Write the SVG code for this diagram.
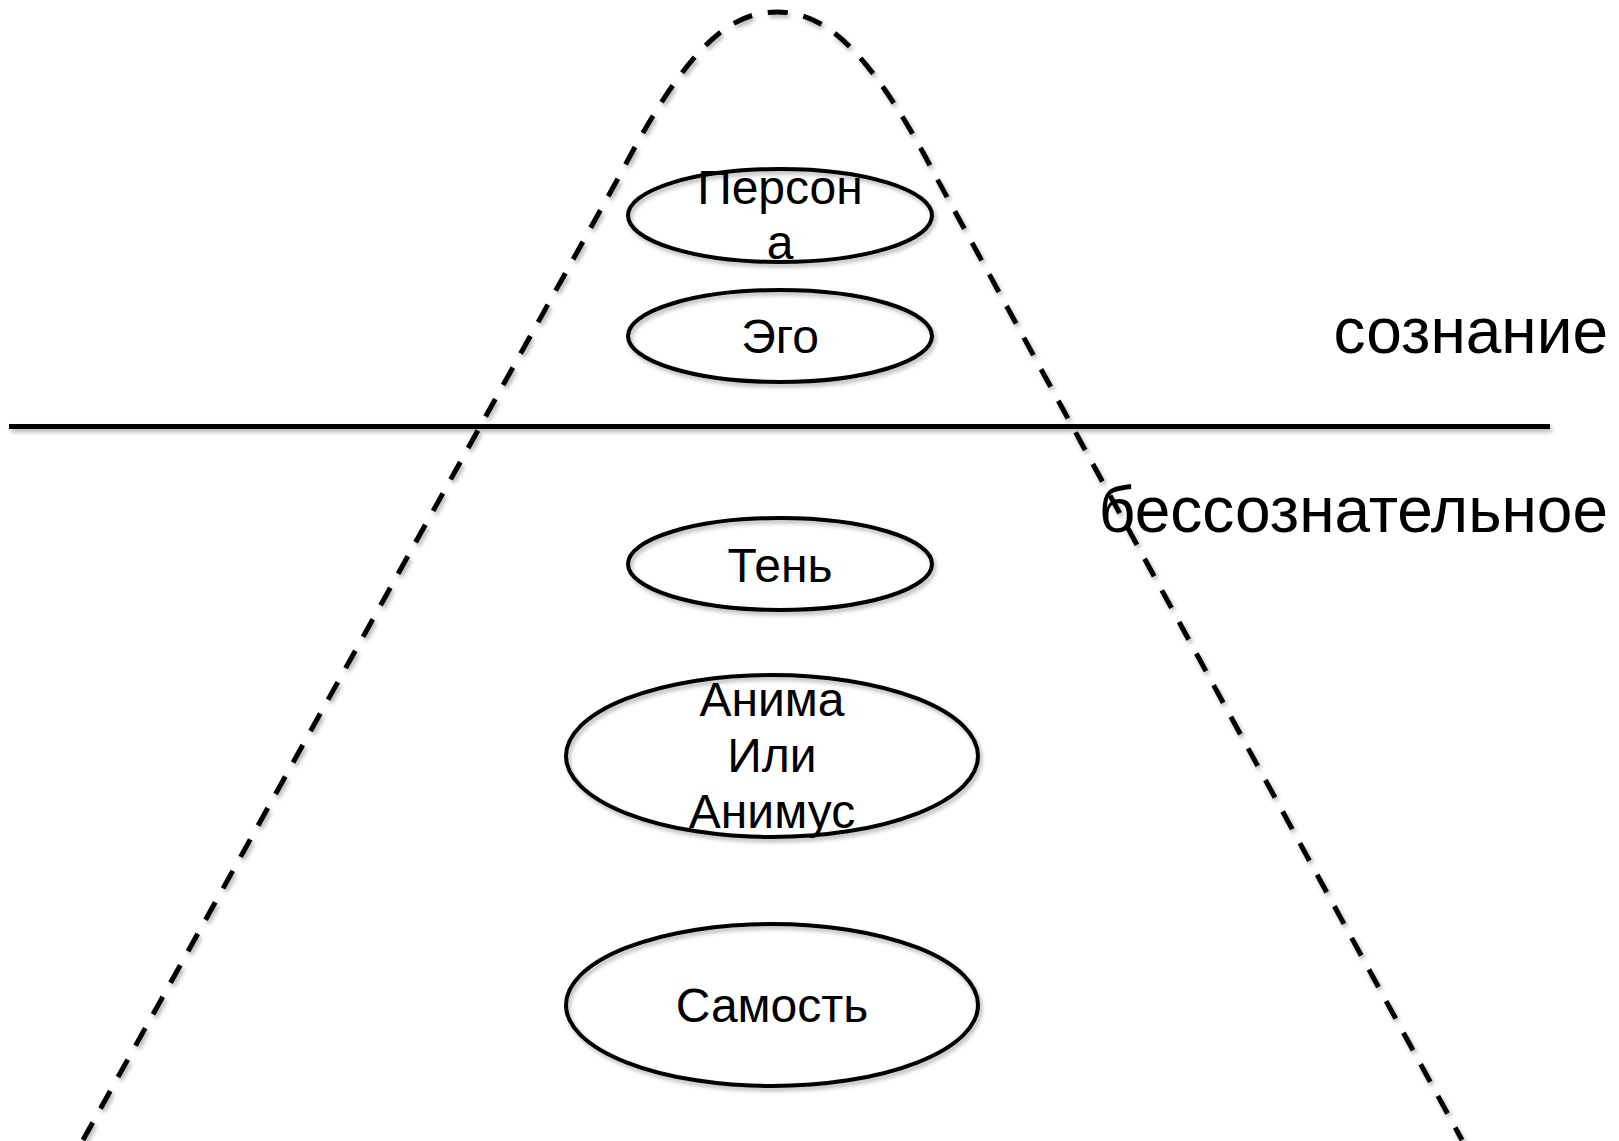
<svg xmlns="http://www.w3.org/2000/svg" width="1619" height="1141" viewBox="0 0 1619 1141">
<style>
  .node ellipse { fill: none; stroke: #000; stroke-width: 4; }
  .lbl { font-family: "Liberation Sans", Arial, sans-serif; font-size: 48px; fill: #000; text-anchor: middle; }
  .big { font-family: "Liberation Sans", Arial, sans-serif; font-size: 64px; fill: #000; text-anchor: end; }
  .dash { fill: none; stroke: #000; stroke-width: 5; stroke-dasharray: 20 16; }
  .sep { stroke: #000; stroke-width: 5; }
</style>
<defs>
  <filter id="sh" x="-5%" y="-5%" width="110%" height="120%">
    <feDropShadow dx="2" dy="3" stdDeviation="2" flood-color="#000" flood-opacity="0.3"/>
  </filter>
</defs>
<rect width="1619" height="1141" fill="#fff"/>
<g id="connectors" filter="url(#sh)">
  <path class="dash" d="M 83 1140 L 620 175 C 690 40, 733 12, 777 12 C 820 12, 865 40, 935 175 L 1462 1140"/>
  <line class="sep" x1="9" y1="426.5" x2="1550" y2="426.5"/>
</g>
<g id="persona" class="node">
  <ellipse cx="780" cy="215.5" rx="152" ry="46.5" filter="url(#sh)"/>
  <text class="lbl" x="780" y="204">Персон</text>
  <text class="lbl" x="780" y="259">а</text>
</g>
<g id="ego" class="node">
  <ellipse cx="780" cy="336" rx="152" ry="46" filter="url(#sh)"/>
  <text class="lbl" x="780" y="353">Эго</text>
</g>
<g id="shadow" class="node">
  <ellipse cx="780" cy="564" rx="152" ry="46" filter="url(#sh)"/>
  <text class="lbl" x="780" y="582">Тень</text>
</g>
<g id="anima" class="node">
  <ellipse cx="772" cy="756" rx="206" ry="81" filter="url(#sh)"/>
  <text class="lbl" x="772" y="716">Анима</text>
  <text class="lbl" x="772" y="772">Или</text>
  <text class="lbl" x="772" y="828">Анимус</text>
</g>
<g id="self" class="node">
  <ellipse cx="772" cy="1005" rx="206" ry="81" filter="url(#sh)"/>
  <text class="lbl" x="772" y="1022">Самость</text>
</g>
<g id="labels">
  <text class="big" x="1608" y="353">сознание</text>
  <text class="big" x="1608" y="532">бессознательное</text>
</g>
</svg>
